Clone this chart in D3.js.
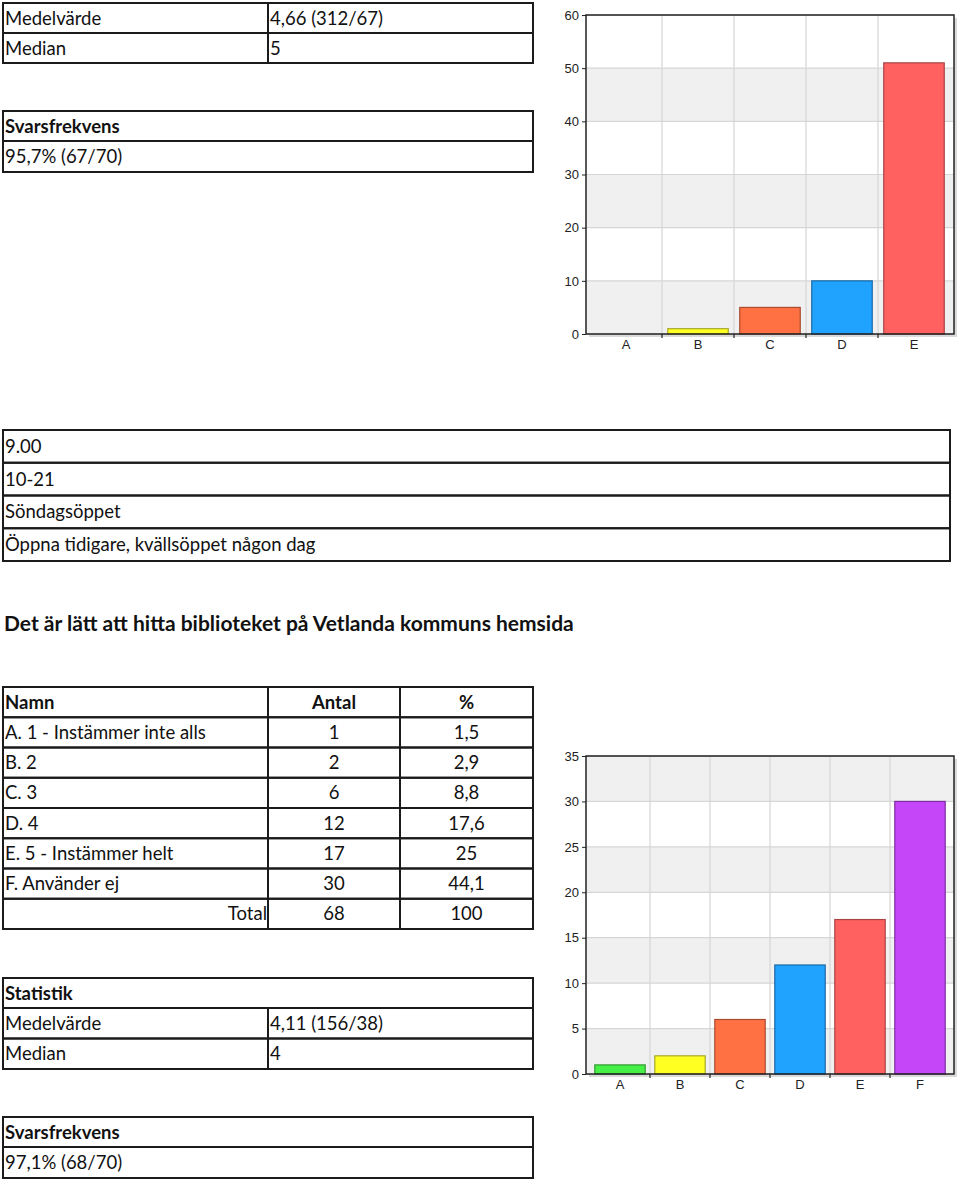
<!DOCTYPE html>
<html><head><meta charset="utf-8">
<script src="https://cdn.jsdelivr.net/npm/d3@7"></script>
<style>body{margin:0;background:#fff}svg{display:block}</style>
</head><body>
<svg id="c" width="960" height="1179"></svg>
<script>
// ---------- data ----------
const chart1Categories = ["A","B","C","D","E"];
const chart1Values = [0,1,5,10,51];
const chart1Ticks = [0,10,20,30,40,50,60];

const chart2Categories = ["A","B","C","D","E","F"];
const chart2Values = [1,2,6,12,17,30];
const chart2Ticks = [0,5,10,15,20,25,30,35];

const stats1Labels = ["Medelvärde","Median"];
const stats1Values = ["4,66 (312/67)","5"];
const response1 = "95,7% (67/70)";

const openHours = ["9.00","10-21","Söndagsöppet","Öppna tidigare, kvällsöppet någon dag"];

const questionTitle = "Det är lätt att hitta biblioteket på Vetlanda kommuns hemsida";
const tableHeaders = ["Namn","Antal","%"];
const answerNames = ["A. 1 - Instämmer inte alls","B. 2","C. 3","D. 4","E. 5 - Instämmer helt","F. Använder ej"];
const answerCounts = [1,2,6,12,17,30];
const answerPercents = ["1,5","2,9","8,8","17,6","25","44,1"];
const totalRow = ["Total","68","100"];

const stats2Labels = ["Medelvärde","Median"];
const stats2Values = ["4,11 (156/38)","4"];
const response2 = "97,1% (68/70)";

// ---------- styles ----------
const barFills   = ["#47f047","#ffff22","#ff7043","#1fa3ff","#ff6161","#c546f8"];
const barStrokes = ["#2e9a2e","#a8a82a","#a84c30","#1a6aa6","#a84444","#7e2ea0"];
const FONT = "Lato, 'Open Sans', sans-serif";
const FS = 18.5;
const AXFONT = "'Liberation Sans', Arial, sans-serif";

const svg = d3.select("#c");

// ---------- tables ----------
function line(x1,y1,x2,y2){
  svg.append("line").attr("x1",x1).attr("y1",y1).attr("x2",x2).attr("y2",y2)
    .attr("stroke","#1b1b1b").attr("stroke-width",2);
}
function txt(x,y,s,opts={}){
  svg.append("text").attr("x",x).attr("y",y).text(s)
    .attr("font-family",FONT).attr("font-size",opts.size||FS)
    .attr("font-weight",opts.bold?"bold":"normal")
    .attr("text-anchor",opts.anchor||"start")
    .attr("fill","#111");
}
function table(rows){
  rows.forEach(r=>{
    const xs = [r.cells[0].x0, r.cells[r.cells.length-1].x1];
    line(xs[0]-1,r.y0,xs[1]+1,r.y0);
    line(xs[0]-1,r.y1,xs[1]+1,r.y1);
    r.cells.forEach(c=>{
      line(c.x0,r.y0,c.x0,r.y1);
      line(c.x1,r.y0,c.x1,r.y1);
      const base = (r.y0+r.y1)/2 + 6.5;
      let x = c.x0+2, anchor="start";
      if(c.align==="center"){x=(c.x0+c.x1)/2;anchor="middle";}
      if(c.align==="end"){x=c.x1-1;anchor="end";}
      txt(x,base,c.text,{bold:c.bold,anchor});
    });
  });
}
const L=3, M=268, R=533;

table(stats1Labels.map((s,i)=>({y0:3+i*30,y1:33+i*30,
  cells:[{x0:L,x1:M,text:s},{x0:M,x1:R,text:stats1Values[i]}]})));
table([{y0:111,y1:141,cells:[{x0:L,x1:R,text:"Svarsfrekvens",bold:true}]},
       {y0:141,y1:172,cells:[{x0:L,x1:R,text:response1}]}]);
table(openHours.map((s,i)=>({y0:430+i*32.75,y1:430+(i+1)*32.75,
  cells:[{x0:L,x1:950,text:s}]})));
txt(4,631,questionTitle,{bold:true,size:21});
{
  const rh = 30.25, y0 = 687, C2 = 400;
  const rows = [];
  rows.push({y0:y0,y1:y0+rh,cells:[{x0:L,x1:M,text:tableHeaders[0],bold:true},
    {x0:M,x1:C2,text:tableHeaders[1],bold:true,align:"center"},
    {x0:C2,x1:R,text:tableHeaders[2],bold:true,align:"center"}]});
  answerNames.forEach((n,i)=>{
    const a = y0+(i+1)*rh;
    rows.push({y0:a,y1:a+rh,cells:[{x0:L,x1:M,text:n},
      {x0:M,x1:C2,text:String(answerCounts[i]),align:"center"},
      {x0:C2,x1:R,text:answerPercents[i],align:"center"}]});
  });
  const a = y0+7*rh;
  rows.push({y0:a,y1:a+rh,cells:[{x0:L,x1:M,text:totalRow[0],align:"end"},
    {x0:M,x1:C2,text:totalRow[1],align:"center"},
    {x0:C2,x1:R,text:totalRow[2],align:"center"}]});
  table(rows);
}
table([{y0:978,y1:1008,cells:[{x0:L,x1:R,text:"Statistik",bold:true}]}]
  .concat(stats2Labels.map((s,i)=>({y0:1008+i*30.5,y1:1038.5+i*30.5,
    cells:[{x0:L,x1:M,text:s},{x0:M,x1:R,text:stats2Values[i]}]}))));
table([{y0:1117,y1:1147,cells:[{x0:L,x1:R,text:"Svarsfrekvens",bold:true}]},
       {y0:1147,y1:1178,cells:[{x0:L,x1:R,text:response2}]}]);

// ---------- bar charts ----------
function barChart(cats, vals, ticks, top, bottom){
  const left=586, right=954;
  const g = svg.append("g");
  const y = d3.scaleLinear().domain([0,d3.max(ticks)]).range([bottom,top]);
  const x = d3.scaleBand().domain(cats).range([590,950]).padding(0);
  const bw = x.bandwidth();
  g.append("rect").attr("x",left+3).attr("y",top+3).attr("width",right-left).attr("height",bottom-top)
    .attr("fill","#dadada");
  g.append("rect").attr("x",left).attr("y",top).attr("width",right-left).attr("height",bottom-top)
    .attr("fill","#fff");
  const step = ticks[1]-ticks[0];
  ticks.slice(0,-1).forEach((t,i)=>{
    if(i%2===0){
      g.append("rect").attr("x",left).attr("y",y(t+step)).attr("width",right-left)
        .attr("height",y(t)-y(t+step)).attr("fill","#f0f0f0");
    }
  });
  g.selectAll(".hg").data(ticks).enter().append("line")
    .attr("x1",left).attr("x2",right).attr("y1",d=>y(d)).attr("y2",d=>y(d))
    .attr("stroke","#d6d6d6").attr("stroke-width",1.2);
  g.selectAll(".vg").data(cats.slice(1)).enter().append("line")
    .attr("x1",d=>x(d)).attr("x2",d=>x(d)).attr("y1",top).attr("y2",bottom)
    .attr("stroke","#d6d6d6").attr("stroke-width",1.2);
  const data = cats.map((c,i)=>({c, v:vals[i], i}));
  g.append("g").selectAll("rect").data(data.filter(d=>d.v>0)).enter().append("rect")
    .attr("x",d=>x(d.c)+bw*0.08).attr("width",bw*0.84)
    .attr("y",d=>y(d.v)).attr("height",d=>y(0)-y(d.v))
    .attr("fill",d=>barFills[d.i]).attr("stroke",d=>barStrokes[d.i]).attr("stroke-width",1.2);
  g.append("rect").attr("x",left).attr("y",top).attr("width",right-left).attr("height",bottom-top)
    .attr("fill","none").attr("stroke","#222").attr("stroke-width",1.5);
  const ya = d3.axisLeft(y).tickValues(ticks).tickSize(4).tickPadding(3);
  const yg = g.append("g").attr("transform",`translate(${left},0)`).call(ya);
  yg.attr("font-size",13).attr("font-family",AXFONT);
  yg.select(".domain").remove();
  yg.selectAll("text").attr("fill","#222");
  yg.selectAll("line").attr("stroke","#222");
  const xa = d3.axisBottom(x).tickSize(0).tickPadding(6);
  const xg = g.append("g").attr("transform",`translate(0,${bottom})`).call(xa);
  xg.attr("font-size",13).attr("font-family",AXFONT);
  xg.select(".domain").remove();
  xg.selectAll("text").attr("fill","#222");
  g.selectAll(".xt").data(cats.slice(1)).enter().append("line")
    .attr("x1",d=>x(d)).attr("x2",d=>x(d)).attr("y1",bottom).attr("y2",bottom+4)
    .attr("stroke","#222").attr("stroke-width",1.2);
}
barChart(chart1Categories, chart1Values, chart1Ticks, 15, 334);
barChart(chart2Categories, chart2Values, chart2Ticks, 756, 1074);
</script>
</body></html>
